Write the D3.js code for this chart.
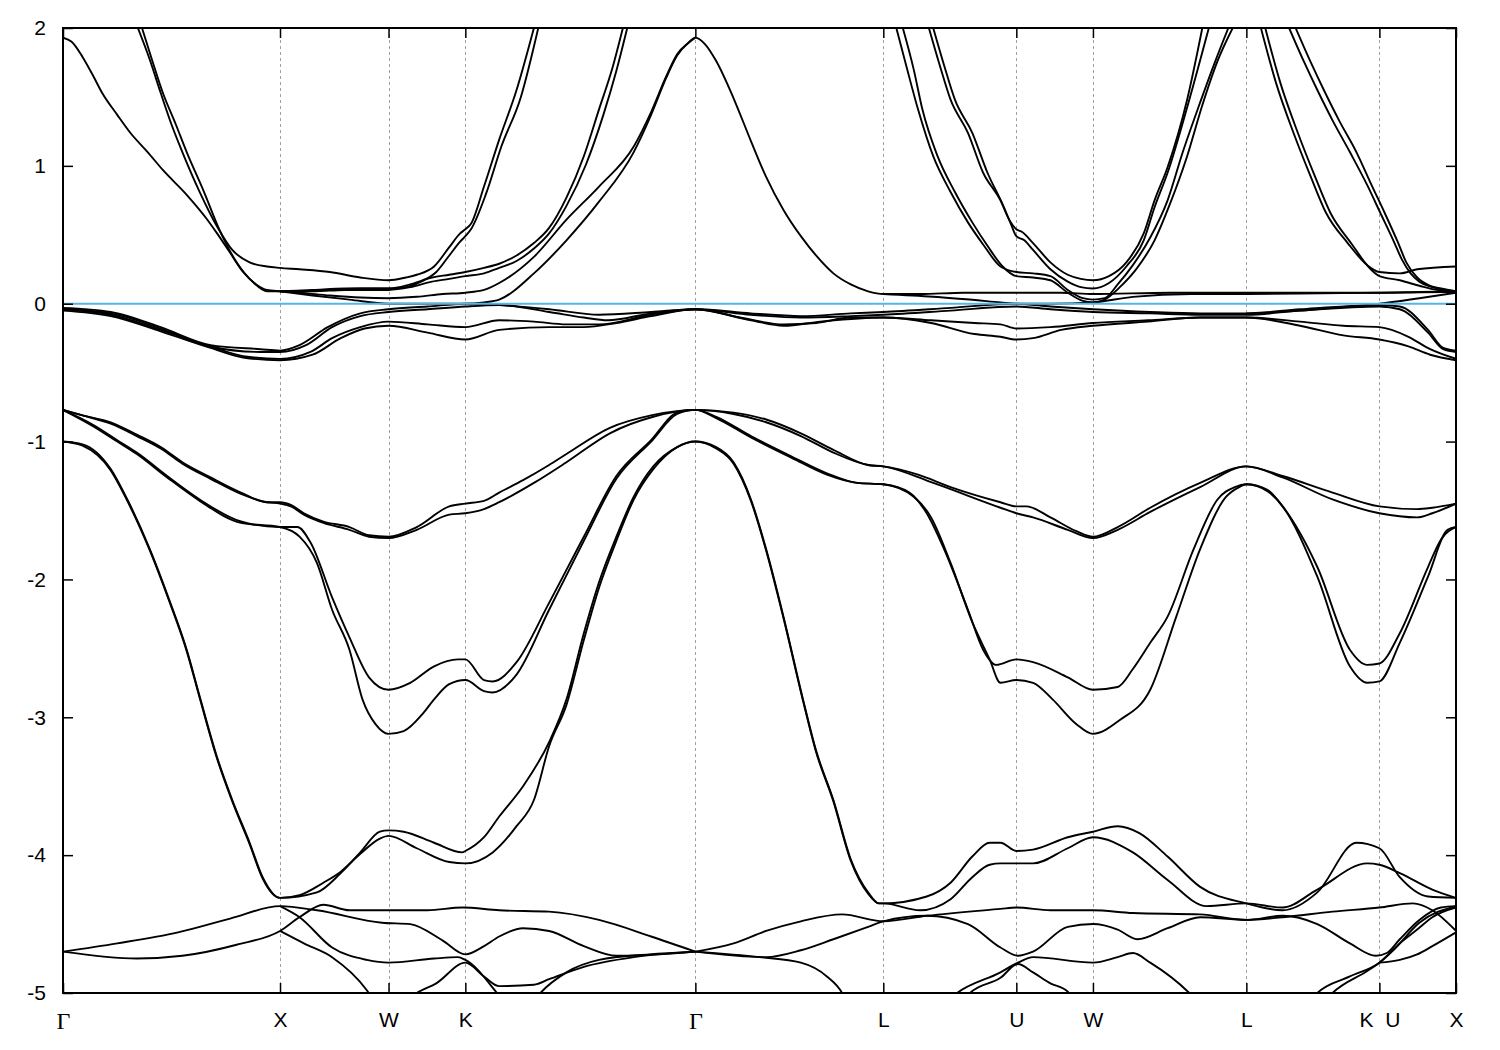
<!DOCTYPE html>
<html><head><meta charset="utf-8">
<script src="https://cdn.jsdelivr.net/npm/d3@7"></script>
<style>
body{margin:0;background:#fff}
svg text{font-family:"Liberation Sans",Arial,sans-serif}
</style>
</head><body>
<svg id="chart" width="1500" height="1050"></svg>
<script>
// ---- high-symmetry path (k distance, 2pi/a units) ----
const kPoints = [0, 1.0, 1.5, 1.854, 2.914, 3.780, 4.393, 4.746, 5.453, 6.066, 6.419];
const kLabels = ["Γ","X","W","K","Γ","L","U","W","L","K\u00a0\u00a0U","X"];
const energyTicks = [2, 1, 0, -1, -2, -3, -4, -5];
const fermiLevel = 0;

// ---- conduction bands ----
const conductionBands = [
 [[0,1.93],[0.04,1.90],[0.09,1.79],[0.14,1.65],[0.18,1.53],[0.25,1.37],[0.31,1.24],[0.39,1.10],[0.46,0.97],[0.57,0.79],[0.66,0.62],[0.71,0.51],[0.77,0.37],[0.83,0.23],[0.89,0.14],[0.94,0.10],[1.0,0.09],[1.09,0.08],[1.23,0.06],[1.37,0.045],[1.5,0.04],[1.63,0.05],[1.75,0.07],[1.854,0.08],[1.94,0.10],[2.01,0.15],[2.17,0.34],[2.32,0.61],[2.47,0.85],[2.63,1.14],[2.71,1.39],[2.78,1.65],[2.83,1.81],[2.88,1.89],[2.914,1.93],[2.96,1.88],[3.01,1.76],[3.09,1.49],[3.17,1.18],[3.24,0.92],[3.32,0.68],[3.40,0.49],[3.47,0.35],[3.55,0.22],[3.63,0.14],[3.71,0.09],[3.78,0.07],[3.95,0.07],[4.15,0.08],[4.393,0.08],[4.6,0.08],[4.746,0.07],[5.1,0.08],[5.453,0.08],[5.8,0.08],[6.066,0.08],[6.25,0.085],[6.419,0.09]],
 [[0.345,2.0],[0.40,1.77],[0.45,1.53],[0.50,1.30],[0.55,1.10],[0.63,0.81],[0.71,0.56],[0.78,0.39],[0.86,0.30],[0.94,0.27],[1.0,0.26],[1.09,0.25],[1.23,0.23],[1.37,0.19],[1.5,0.17],[1.58,0.19],[1.63,0.21],[1.71,0.27],[1.78,0.41],[1.83,0.51],[1.854,0.54],[1.88,0.58],[1.94,0.85],[2.01,1.19],[2.09,1.55],[2.17,2.0]],
 [[0.364,2.0],[0.41,1.77],[0.46,1.53],[0.52,1.30],[0.57,1.10],[0.65,0.81],[0.72,0.54],[0.80,0.30],[0.88,0.15],[0.94,0.09],[1.0,0.09],[1.09,0.09],[1.23,0.10],[1.37,0.11],[1.5,0.11],[1.58,0.12],[1.65,0.16],[1.72,0.23],[1.78,0.35],[1.83,0.45],[1.854,0.49],[1.88,0.54],[1.95,0.80],[2.02,1.14],[2.11,1.50],[2.19,2.0]],
 [[1.0,0.09],[1.15,0.10],[1.3,0.11],[1.5,0.11],[1.6,0.14],[1.7,0.19],[1.78,0.21],[1.854,0.23],[1.94,0.26],[2.01,0.29],[2.09,0.35],[2.17,0.44],[2.24,0.55],[2.32,0.77],[2.40,1.07],[2.47,1.41],[2.53,1.70],[2.58,2.0]],
 [[1.0,0.09],[1.15,0.09],[1.3,0.10],[1.5,0.10],[1.6,0.12],[1.7,0.16],[1.78,0.18],[1.854,0.20],[1.94,0.22],[2.01,0.26],[2.09,0.31],[2.17,0.40],[2.24,0.51],[2.32,0.71],[2.41,1.01],[2.49,1.37],[2.55,1.69],[2.60,2.0]],
 [[1.0,0.09],[1.15,0.06],[1.32,0.03],[1.5,0.0],[1.68,0.0],[1.854,0.0],[1.94,0.01],[2.01,0.03],[2.17,0.22],[2.32,0.46],[2.47,0.74],[2.63,1.10],[2.71,1.37],[2.78,1.64],[2.83,1.80],[2.88,1.89],[2.914,1.93]],
 [[3.84,2.0],[3.89,1.70],[3.94,1.41],[4.01,1.07],[4.09,0.81],[4.17,0.59],[4.24,0.43],[4.32,0.27],[4.393,0.23],[4.47,0.22],[4.55,0.20],[4.63,0.10],[4.70,0.04],[4.746,0.03],[4.80,0.04],[4.86,0.14],[4.93,0.28],[5.01,0.48],[5.09,0.75],[5.16,1.10],[5.24,1.46],[5.31,1.76],[5.37,2.0]],
 [[3.87,2.0],[3.92,1.70],[3.96,1.41],[4.03,1.07],[4.11,0.81],[4.19,0.59],[4.26,0.42],[4.33,0.27],[4.393,0.20],[4.47,0.19],[4.55,0.17],[4.63,0.08],[4.70,0.02],[4.746,0.01],[4.80,0.03],[4.87,0.12],[4.95,0.26],[5.03,0.46],[5.10,0.72],[5.18,1.07],[5.25,1.44],[5.32,1.76],[5.39,2.0]],
 [[3.99,2.0],[4.04,1.73],[4.09,1.48],[4.17,1.24],[4.24,0.95],[4.32,0.75],[4.36,0.61],[4.393,0.54],[4.42,0.52],[4.47,0.44],[4.55,0.30],[4.63,0.21],[4.69,0.18],[4.746,0.17],[4.82,0.20],[4.90,0.30],[4.98,0.51],[5.03,0.75],[5.09,0.99],[5.18,1.48],[5.25,2.0]],
 [[4.01,2.0],[4.06,1.73],[4.11,1.48],[4.19,1.24],[4.26,0.95],[4.33,0.72],[4.37,0.57],[4.393,0.49],[4.43,0.46],[4.47,0.39],[4.55,0.25],[4.63,0.16],[4.69,0.12],[4.746,0.11],[4.82,0.15],[4.90,0.27],[4.98,0.46],[5.03,0.70],[5.09,0.95],[5.19,1.48],[5.28,2.0]],
 [[5.52,2.0],[5.59,1.60],[5.67,1.24],[5.75,0.92],[5.82,0.66],[5.92,0.44],[6.01,0.28],[6.066,0.23],[6.16,0.22],[6.24,0.25],[6.419,0.27]],
 [[5.54,2.0],[5.61,1.60],[5.69,1.24],[5.77,0.92],[5.84,0.66],[5.94,0.43],[6.02,0.26],[6.066,0.20],[6.16,0.17],[6.25,0.13],[6.33,0.10],[6.419,0.09]],
 [[5.65,2.0],[5.72,1.75],[5.78,1.55],[5.85,1.33],[5.93,1.10],[6.01,0.86],[6.07,0.66],[6.13,0.46],[6.17,0.32],[6.21,0.22],[6.25,0.16],[6.31,0.12],[6.419,0.09]],
 [[5.68,2.0],[5.75,1.75],[5.81,1.55],[5.88,1.33],[5.96,1.10],[6.03,0.86],[6.09,0.66],[6.15,0.45],[6.19,0.30],[6.24,0.19],[6.30,0.13],[6.35,0.11],[6.419,0.09]]
];

// ---- bands close to the Fermi level ----
const nearFermiBands = [
 [[0,-0.03],[0.22,-0.06],[0.45,-0.17],[0.68,-0.30],[0.91,-0.33],[1.0,-0.34],[1.09,-0.30],[1.22,-0.17],[1.37,-0.07],[1.5,-0.04],[1.68,-0.02],[1.854,0.0],[2.01,-0.01],[2.24,-0.04],[2.47,-0.08],[2.71,-0.06],[2.914,-0.04],[3.17,-0.07],[3.40,-0.09],[3.63,-0.07],[3.78,-0.06],[4.09,-0.03],[4.393,0.0],[4.55,-0.02],[4.746,-0.04],[5.01,-0.06],[5.24,-0.07],[5.453,-0.07],[5.70,-0.04],[6.066,-0.01],[6.16,-0.02],[6.29,-0.19],[6.36,-0.32],[6.419,-0.34]],
 [[0,-0.04],[0.22,-0.07],[0.45,-0.18],[0.68,-0.31],[0.91,-0.35],[1.0,-0.35],[1.12,-0.30],[1.24,-0.17],[1.37,-0.09],[1.5,-0.06],[1.68,-0.04],[1.854,-0.02],[2.01,-0.01],[2.24,-0.06],[2.40,-0.10],[2.51,-0.12],[2.71,-0.07],[2.914,-0.04],[3.17,-0.08],[3.40,-0.10],[3.63,-0.09],[3.78,-0.08],[4.09,-0.05],[4.393,-0.02],[4.55,-0.04],[4.746,-0.06],[5.01,-0.07],[5.24,-0.08],[5.453,-0.08],[5.70,-0.05],[6.066,-0.02],[6.16,-0.04],[6.29,-0.21],[6.36,-0.33],[6.419,-0.35]],
 [[0,-0.04],[0.22,-0.08],[0.45,-0.19],[0.68,-0.31],[0.83,-0.38],[1.0,-0.40],[1.14,-0.35],[1.24,-0.25],[1.37,-0.17],[1.5,-0.13],[1.68,-0.15],[1.854,-0.17],[2.01,-0.12],[2.17,-0.13],[2.32,-0.15],[2.47,-0.15],[2.71,-0.08],[2.914,-0.04],[3.12,-0.10],[3.32,-0.15],[3.47,-0.14],[3.63,-0.10],[3.78,-0.10],[4.0,-0.12],[4.2,-0.14],[4.32,-0.15],[4.393,-0.18],[4.55,-0.17],[4.746,-0.14],[5.0,-0.12],[5.24,-0.10],[5.453,-0.10],[5.70,-0.13],[5.9,-0.16],[6.066,-0.17],[6.2,-0.24],[6.3,-0.33],[6.419,-0.40]],
 [[0,-0.05],[0.22,-0.09],[0.45,-0.20],[0.68,-0.32],[0.83,-0.39],[1.0,-0.41],[1.15,-0.37],[1.28,-0.25],[1.39,-0.18],[1.5,-0.16],[1.68,-0.21],[1.854,-0.26],[2.01,-0.19],[2.24,-0.17],[2.40,-0.17],[2.55,-0.14],[2.71,-0.09],[2.914,-0.04],[3.17,-0.12],[3.32,-0.16],[3.49,-0.13],[3.78,-0.10],[4.0,-0.14],[4.2,-0.22],[4.32,-0.24],[4.393,-0.26],[4.47,-0.25],[4.6,-0.19],[4.746,-0.16],[5.0,-0.13],[5.24,-0.10],[5.453,-0.10],[5.7,-0.16],[5.9,-0.23],[6.066,-0.26],[6.2,-0.31],[6.3,-0.37],[6.419,-0.41]],
 [[3.78,0.07],[4.01,0.05],[4.32,0.01],[4.393,0.0],[4.55,0.0],[4.746,0.01],[4.93,0.05],[5.2,0.07],[5.453,0.07],[5.8,0.075],[6.066,0.08],[6.419,0.085]],
 [[5.453,-0.07],[5.70,-0.05],[5.93,-0.02],[6.066,0.0],[6.25,0.04],[6.419,0.08]]
];

// ---- valence bands between -0.7 and -4.4 eV ----
const valenceBands = [
 [[0,-0.77],[0.09,-0.81],[0.22,-0.86],[0.34,-0.95],[0.45,-1.04],[0.55,-1.15],[0.68,-1.26],[0.82,-1.37],[0.94,-1.44],[1.0,-1.44],[1.05,-1.46],[1.11,-1.52],[1.20,-1.58],[1.32,-1.62],[1.41,-1.68],[1.5,-1.69],[1.63,-1.62],[1.78,-1.47],[1.854,-1.45],[1.94,-1.43],[2.01,-1.37],[2.12,-1.28],[2.24,-1.17],[2.32,-1.09],[2.52,-0.90],[2.71,-0.81],[2.914,-0.77],[3.09,-0.79],[3.24,-0.84],[3.40,-0.94],[3.55,-1.06],[3.71,-1.17],[3.78,-1.18],[3.94,-1.24],[4.09,-1.33],[4.32,-1.44],[4.393,-1.47],[4.44,-1.47],[4.55,-1.55],[4.67,-1.65],[4.746,-1.69],[4.86,-1.62],[5.01,-1.48],[5.24,-1.30],[5.453,-1.18],[5.62,-1.25],[5.85,-1.37],[6.066,-1.47],[6.24,-1.49],[6.31,-1.48],[6.419,-1.45]],
 [[0,-0.77],[0.09,-0.81],[0.22,-0.87],[0.34,-0.96],[0.45,-1.05],[0.55,-1.16],[0.68,-1.27],[0.82,-1.38],[0.94,-1.44],[1.0,-1.45],[1.05,-1.47],[1.11,-1.53],[1.20,-1.59],[1.32,-1.64],[1.41,-1.69],[1.5,-1.70],[1.63,-1.64],[1.78,-1.53],[1.854,-1.52],[1.94,-1.49],[2.01,-1.44],[2.17,-1.30],[2.32,-1.15],[2.52,-0.94],[2.72,-0.82],[2.914,-0.77],[3.09,-0.80],[3.24,-0.86],[3.40,-0.96],[3.55,-1.08],[3.71,-1.17],[3.78,-1.18],[4.01,-1.30],[4.32,-1.48],[4.393,-1.52],[4.47,-1.55],[4.63,-1.64],[4.746,-1.70],[4.86,-1.64],[5.01,-1.51],[5.24,-1.33],[5.453,-1.18],[5.62,-1.26],[5.85,-1.42],[6.066,-1.52],[6.24,-1.55],[6.31,-1.52],[6.419,-1.45]],
 [[0,-0.77],[0.14,-0.88],[0.25,-0.99],[0.34,-1.08],[0.48,-1.25],[0.63,-1.42],[0.82,-1.58],[1.0,-1.62],[1.08,-1.62],[1.14,-1.73],[1.24,-2.13],[1.32,-2.42],[1.41,-2.71],[1.5,-2.80],[1.60,-2.75],[1.71,-2.63],[1.82,-2.58],[1.854,-2.58],[1.94,-2.73],[1.98,-2.74],[2.09,-2.60],[2.24,-2.17],[2.40,-1.69],[2.55,-1.25],[2.71,-0.99],[2.83,-0.79],[2.914,-0.77],[3.01,-0.82],[3.17,-0.96],[3.36,-1.11],[3.52,-1.23],[3.66,-1.30],[3.78,-1.31],[3.90,-1.37],[3.98,-1.52],[4.06,-1.78],[4.17,-2.22],[4.24,-2.51],[4.30,-2.62],[4.393,-2.58],[4.47,-2.60],[4.63,-2.71],[4.746,-2.80],[4.86,-2.78],[4.93,-2.65],[5.01,-2.46],[5.09,-2.27],[5.21,-1.78],[5.32,-1.42],[5.40,-1.33],[5.453,-1.31],[5.55,-1.35],[5.62,-1.47],[5.78,-1.91],[5.93,-2.51],[6.01,-2.62],[6.066,-2.61],[6.16,-2.39],[6.29,-1.91],[6.35,-1.71],[6.419,-1.62]],
 [[0,-0.77],[0.14,-0.89],[0.25,-1.00],[0.34,-1.09],[0.48,-1.26],[0.63,-1.43],[0.82,-1.59],[1.0,-1.62],[1.09,-1.69],[1.17,-1.88],[1.24,-2.22],[1.32,-2.51],[1.38,-2.87],[1.44,-3.05],[1.5,-3.12],[1.57,-3.10],[1.66,-2.97],[1.71,-2.87],[1.78,-2.76],[1.854,-2.73],[1.94,-2.81],[1.98,-2.82],[2.09,-2.69],[2.24,-2.22],[2.40,-1.72],[2.55,-1.27],[2.71,-1.00],[2.83,-0.80],[2.914,-0.77],[3.01,-0.83],[3.17,-0.97],[3.36,-1.12],[3.52,-1.24],[3.66,-1.30],[3.78,-1.31],[3.92,-1.40],[4.0,-1.55],[4.09,-1.88],[4.19,-2.31],[4.27,-2.58],[4.32,-2.75],[4.393,-2.73],[4.47,-2.75],[4.56,-2.87],[4.67,-3.05],[4.746,-3.12],[4.87,-3.02],[5.01,-2.80],[5.13,-2.27],[5.24,-1.78],[5.36,-1.40],[5.42,-1.33],[5.453,-1.31],[5.55,-1.36],[5.62,-1.47],[5.78,-1.98],[5.93,-2.63],[6.01,-2.75],[6.066,-2.74],[6.16,-2.46],[6.29,-1.98],[6.38,-1.64],[6.419,-1.62]],
 [[0,-1.0],[0.09,-1.02],[0.22,-1.20],[0.29,-1.40],[0.40,-1.78],[0.49,-2.15],[0.57,-2.51],[0.63,-2.85],[0.71,-3.29],[0.78,-3.60],[0.86,-3.91],[0.92,-4.16],[1.0,-4.31],[1.17,-4.27],[1.28,-4.13],[1.37,-3.98],[1.46,-3.83],[1.5,-3.82],[1.57,-3.83],[1.71,-3.91],[1.84,-3.98],[1.854,-3.97],[1.94,-3.87],[2.01,-3.72],[2.12,-3.50],[2.24,-3.18],[2.32,-2.87],[2.40,-2.39],[2.47,-2.02],[2.55,-1.69],[2.63,-1.40],[2.72,-1.18],[2.83,-1.04],[2.914,-1.0],[3.01,-1.04],[3.09,-1.15],[3.17,-1.42],[3.24,-1.78],[3.32,-2.27],[3.41,-2.87],[3.47,-3.24],[3.55,-3.60],[3.63,-4.03],[3.71,-4.27],[3.76,-4.35],[3.78,-4.35],[3.98,-4.30],[4.09,-4.20],[4.19,-4.01],[4.27,-3.91],[4.32,-3.91],[4.393,-3.97],[4.47,-3.96],[4.63,-3.87],[4.746,-3.83],[4.86,-3.79],[4.96,-3.84],[5.09,-4.01],[5.24,-4.23],[5.453,-4.35],[5.62,-4.40],[5.78,-4.27],[5.96,-3.91],[6.066,-3.95],[6.16,-4.16],[6.29,-4.30],[6.419,-4.31]],
 [[0,-1.0],[0.09,-1.03],[0.22,-1.21],[0.29,-1.41],[0.40,-1.79],[0.49,-2.16],[0.57,-2.52],[0.63,-2.86],[0.71,-3.30],[0.78,-3.61],[0.86,-3.92],[0.92,-4.17],[1.0,-4.31],[1.09,-4.29],[1.20,-4.20],[1.28,-4.12],[1.37,-3.99],[1.46,-3.88],[1.5,-3.86],[1.63,-3.95],[1.78,-4.05],[1.854,-4.06],[1.98,-3.98],[2.09,-3.79],[2.17,-3.60],[2.24,-3.21],[2.32,-2.91],[2.40,-2.44],[2.47,-2.06],[2.55,-1.72],[2.63,-1.42],[2.72,-1.20],[2.83,-1.04],[2.914,-1.0],[3.01,-1.05],[3.09,-1.16],[3.17,-1.43],[3.24,-1.79],[3.32,-2.28],[3.41,-2.88],[3.47,-3.25],[3.55,-3.61],[3.63,-4.04],[3.71,-4.28],[3.76,-4.35],[3.78,-4.35],[3.95,-4.40],[4.09,-4.32],[4.19,-4.16],[4.27,-4.07],[4.32,-4.06],[4.393,-4.06],[4.47,-4.06],[4.63,-3.95],[4.746,-3.87],[4.93,-3.98],[5.09,-4.18],[5.27,-4.37],[5.453,-4.35],[5.62,-4.38],[5.78,-4.25],[6.01,-4.06],[6.066,-4.07],[6.16,-4.13],[6.31,-4.25],[6.419,-4.31]]
];

// ---- deep bands near -4.4 to -5 eV ----
const deepBands = [
 [[0,-4.70],[0.25,-4.64],[0.53,-4.56],[0.77,-4.46],[1.0,-4.37],[1.17,-4.40],[1.47,-4.49],[1.60,-4.50],[1.75,-4.62],[1.854,-4.72],[1.94,-4.66],[2.01,-4.59],[2.12,-4.53],[2.24,-4.55],[2.40,-4.66],[2.55,-4.73],[2.75,-4.72],[2.914,-4.70]],
 [[0,-4.70],[0.34,-4.75],[0.55,-4.73],[0.80,-4.65],[1.0,-4.55],[1.09,-4.45],[1.20,-4.36],[1.32,-4.40],[1.5,-4.40],[1.68,-4.40],[1.84,-4.38],[2.01,-4.40],[2.24,-4.41],[2.47,-4.47],[2.71,-4.59],[2.914,-4.70]],
 [[1.0,-4.37],[1.09,-4.45],[1.24,-4.67],[1.40,-4.76],[1.5,-4.78],[1.71,-4.75],[1.82,-4.74],[1.854,-4.76],[2.0,-5.0],[2.05,-5.1]],
 [[1.0,-4.55],[1.11,-4.64],[1.24,-4.74],[1.40,-4.98],[1.45,-5.1]],
 [[1.55,-5.1],[1.63,-5.0],[1.72,-4.93],[1.854,-4.78],[1.94,-4.88],[2.01,-4.95],[2.17,-4.94],[2.24,-4.90],[2.40,-4.81],[2.63,-4.74],[2.914,-4.70]],
 [[2.15,-5.1],[2.20,-5.0],[2.32,-4.85],[2.47,-4.76],[2.70,-4.72],[2.914,-4.70]],
 [[2.914,-4.70],[3.09,-4.64],[3.24,-4.55],[3.40,-4.48],[3.59,-4.43],[3.78,-4.48],[3.98,-4.44],[4.32,-4.39],[4.393,-4.38],[4.55,-4.40],[4.746,-4.40],[4.93,-4.42],[5.24,-4.43],[5.453,-4.47],[5.62,-4.45],[5.85,-4.41],[6.066,-4.38],[6.22,-4.35],[6.31,-4.40],[6.419,-4.55]],
 [[2.914,-4.70],[3.21,-4.74],[3.40,-4.78],[3.52,-4.88],[3.59,-5.0],[3.62,-5.1]],
 [[2.914,-4.70],[3.24,-4.74],[3.40,-4.69],[3.55,-4.61],[3.71,-4.52],[3.78,-4.48],[3.98,-4.44],[4.17,-4.50],[4.32,-4.67],[4.40,-4.73],[4.47,-4.70],[4.63,-4.52],[4.746,-4.50],[4.86,-4.54],[4.95,-4.61],[5.09,-4.53],[5.24,-4.45],[5.453,-4.47],[5.62,-4.44],[5.78,-4.50],[5.93,-4.64],[6.05,-4.73],[6.10,-4.71],[6.16,-4.61],[6.25,-4.47],[6.35,-4.38],[6.419,-4.37]],
 [[4.08,-5.05],[4.12,-5.0],[4.32,-4.85],[4.40,-4.78],[4.47,-4.74],[4.746,-4.78],[4.86,-4.74],[4.93,-4.71],[5.01,-4.78],[5.19,-5.0],[5.25,-5.1]],
 [[4.15,-5.05],[4.18,-5.0],[4.32,-4.89],[4.40,-4.79],[4.47,-4.85],[4.55,-4.93],[4.63,-4.99],[4.66,-5.05]],
 [[5.75,-5.05],[5.78,-5.0],[5.93,-4.88],[6.066,-4.78],[6.16,-4.64],[6.24,-4.54],[6.31,-4.45],[6.419,-4.38]],
 [[5.82,-5.05],[5.85,-5.0],[6.01,-4.84],[6.066,-4.78],[6.13,-4.69],[6.25,-4.49],[6.419,-4.37]],
 [[6.066,-4.78],[6.16,-4.76],[6.24,-4.72],[6.31,-4.66],[6.419,-4.56]]
];

// ---- drawing ----
const svg = d3.select("#chart");
const plot = {left:63, right:1456, top:28, bottom:993};
const xScale = d3.scaleLinear().domain([kPoints[0], kPoints[kPoints.length-1]]).range([plot.left, plot.right]);
const yScale = d3.scaleLinear().domain([d3.min(energyTicks), d3.max(energyTicks)]).range([plot.bottom, plot.top]);

svg.append("rect").attr("width",1500).attr("height",1050).attr("fill","#fff");
svg.append("defs").append("clipPath").attr("id","plotClip").append("rect")
  .attr("x",plot.left).attr("y",plot.top).attr("width",plot.right-plot.left).attr("height",plot.bottom-plot.top);

// dashed verticals at interior symmetry points
svg.append("g").selectAll("line").data(kPoints.slice(1,-1)).join("line")
  .attr("x1",d=>Math.round(xScale(d))+0.5).attr("x2",d=>Math.round(xScale(d))+0.5)
  .attr("y1",plot.top).attr("y2",plot.bottom)
  .attr("stroke","#a0a0a0").attr("stroke-width",1).attr("stroke-dasharray","3,3");

const bandLine = d3.line()
  .x(d=>xScale(d[0])).y(d=>yScale(d[1]))
  .curve(d3.curveMonotoneX);
const clean = b => b.filter((p,i)=> i===0 || p[0] > b[i-1][0]);
const allBands = [...conductionBands, ...nearFermiBands, ...valenceBands, ...deepBands].map(clean);

svg.append("g").attr("clip-path","url(#plotClip)")
  .selectAll("path").data(allBands).join("path")
  .attr("d",bandLine).attr("fill","none").attr("stroke","#000")
  .attr("stroke-width",1.9).attr("stroke-linejoin","round");

// Fermi level
svg.append("line")
  .attr("x1",plot.left).attr("x2",plot.right)
  .attr("y1",yScale(fermiLevel)).attr("y2",yScale(fermiLevel))
  .attr("stroke","#56b4e9").attr("stroke-width",2);

// axes (gnuplot style inward ticks, mirrored)
const styleAxis = g => {
  g.select(".domain").remove();
  g.selectAll(".tick line").attr("stroke","#000").attr("stroke-width",1.5);
  g.selectAll(".tick text").attr("fill","#000").style("font-size","21px")
   .style("font-family",'"Liberation Sans", Arial, sans-serif');
};
svg.append("g").attr("transform",`translate(0,${plot.bottom})`)
  .call(d3.axisBottom(xScale).tickValues(kPoints).tickSize(-10).tickPadding(19).tickFormat((d,i)=>kLabels[i]))
  .call(styleAxis)
  .call(g=>g.selectAll(".tick text").each(function(){
      const s=d3.select(this);
      if(s.text()==="Γ"){ s.style("font-family",'"Liberation Serif","Times New Roman",serif').style("font-size","24px"); }
  }));
svg.append("g").attr("transform",`translate(0,${plot.top})`)
  .call(d3.axisTop(xScale).tickValues(kPoints).tickSize(-10).tickFormat(""))
  .call(styleAxis);
svg.append("g").attr("transform",`translate(${plot.left},0)`)
  .call(d3.axisLeft(yScale).tickValues(energyTicks).tickSize(-10).tickPadding(17).tickFormat(d=>String(d)))
  .call(styleAxis);
svg.append("g").attr("transform",`translate(${plot.right},0)`)
  .call(d3.axisRight(yScale).tickValues(energyTicks).tickSize(-10).tickFormat(""))
  .call(styleAxis);

// border
svg.append("rect").attr("x",plot.left).attr("y",plot.top)
  .attr("width",plot.right-plot.left).attr("height",plot.bottom-plot.top)
  .attr("fill","none").attr("stroke","#000").attr("stroke-width",2);
</script>
</body></html>
